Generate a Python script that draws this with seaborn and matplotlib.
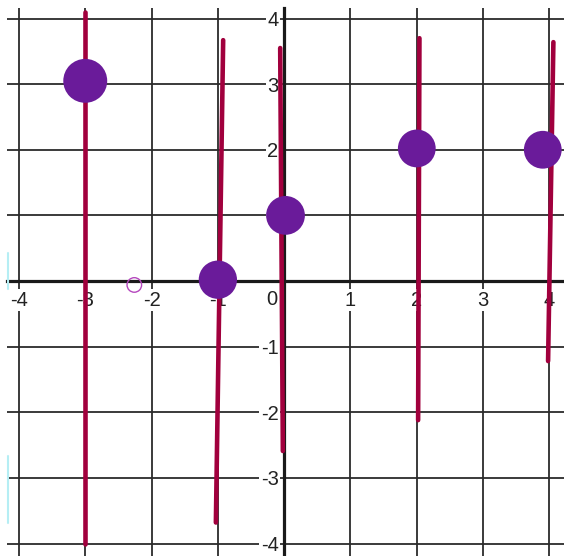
import matplotlib
matplotlib.use("Agg")
import matplotlib.pyplot as plt
import pandas as pd
import seaborn as sns

# big purple dots, size in points^2
dot_x = [-3.0, -1.0, 0.02, 2.0, 3.9]
dot_y = [3.05, 0.02, 1.0, 2.02, 2.0]
dot_size = [1000, 760, 780, 740, 740]

# the hand drawn red strokes: start and end point of each
stroke_id = [1, 1, 2, 2, 3, 3, 4, 4, 5, 5]
stroke_x = [-3.0, -3.0, -0.92, -1.03, -0.06, -0.02, 2.04, 2.02, 4.06, 3.98]
stroke_y = [4.1, -4.0, 3.67, -3.68, 3.55, -2.59, 3.70, -2.12, 3.64, -1.22]

# tiny open circle near the x axis
ring_x = [-2.26]
ring_y = [-0.06]

# faint cyan marks at the left edge
cyan_id = [1, 1, 2, 2]
cyan_x = [-4.17, -4.17, -4.17, -4.17]
cyan_y = [0.43, -0.12, -2.66, -3.68]

x_ticks = [-4, -3, -2, -1, 1, 2, 3, 4]
y_ticks = [-4, -3, -2, -1, 1, 2, 3, 4]

strokes = pd.DataFrame({"stroke": stroke_id, "x": stroke_x, "y": stroke_y})
cyan = pd.DataFrame({"stroke": cyan_id, "x": cyan_x, "y": cyan_y})
dots = pd.DataFrame({"x": dot_x, "y": dot_y, "s": dot_size})

sns.set_style("white")
plt.rcParams["font.family"] = ["Liberation Sans", "DejaVu Sans"]
plt.rcParams["axes.unicode_minus"] = False

fig = plt.figure(figsize=(5.64, 5.56), dpi=100)
ax = fig.add_axes([7 / 564, 0, 557 / 564, 548 / 556])

sns.lineplot(data=strokes, x="x", y="y", units="stroke", estimator=None, sort=False,
             color="#A1003D", linewidth=3.3, ax=ax, zorder=4, legend=False)
sns.lineplot(data=cyan, x="x", y="y", units="stroke", estimator=None, sort=False,
             color="#B5EEF4", linewidth=1.5, ax=ax, zorder=4, legend=False, clip_on=False)
sns.scatterplot(data=dots, x="x", y="y", size="s", sizes=(min(dot_size), max(dot_size)),
                color="#6A1B9A", linewidth=0, ax=ax, zorder=5, legend=False)
sns.scatterplot(x=ring_x, y=ring_y, s=110, marker="o", facecolors="none",
                edgecolor="#B548BE", linewidth=1.0, ax=ax, zorder=5)

ax.set_xlim(-4.18, 4.22)
ax.set_ylim(-4.19, 4.16)

for side in ["top", "right"]:
    ax.spines[side].set_visible(False)
for side in ["left", "bottom"]:
    ax.spines[side].set_position(("data", 0))
    ax.spines[side].set_linewidth(2.3)
    ax.spines[side].set_color("#1a1a1a")

ax.set_xticks(x_ticks, labels=[str(t) for t in x_ticks])
ax.set_yticks(y_ticks, labels=[str(t) for t in y_ticks])
ax.grid(True, color="#2b2b2b", linewidth=1.3)
ax.tick_params(length=0, labelsize=14.5, labelcolor="#222222")
ax.tick_params(axis="x", pad=7)
ax.tick_params(axis="y", pad=4)
for lbl in ax.get_xticklabels() + ax.get_yticklabels():
    lbl.set_bbox(dict(facecolor="white", edgecolor="none", pad=1))

# the shared origin label sits left of the y axis
ax.text(-0.18, -0.14, "0", ha="center", va="top", fontsize=14.5, color="#222222",
        bbox=dict(facecolor="white", edgecolor="none", pad=1), zorder=3)

ax.set_xlabel("")
ax.set_ylabel("")

fig.savefig("out.png", dpi=100)
